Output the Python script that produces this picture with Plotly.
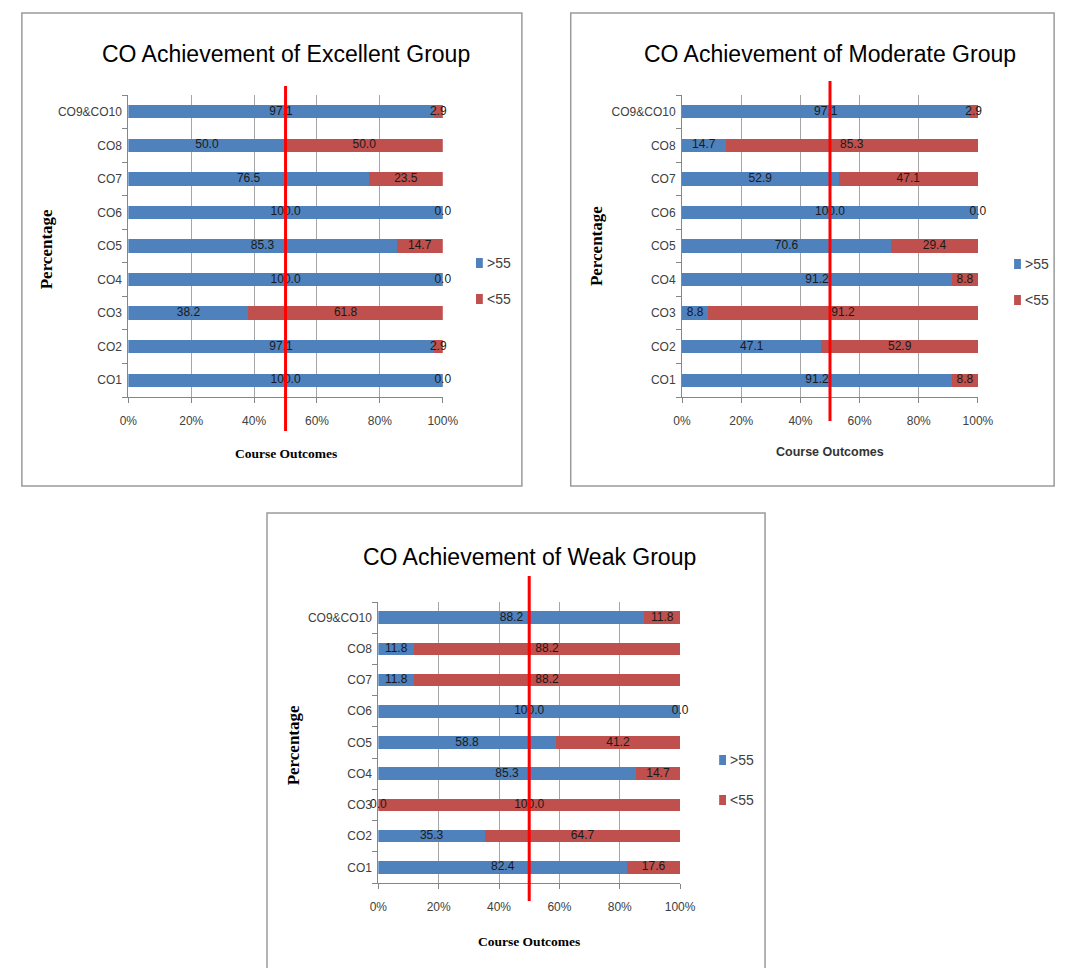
import plotly.graph_objects as go

W, H = 1067, 968

categories = ["CO1", "CO2", "CO3", "CO4", "CO5", "CO6", "CO7", "CO8", "CO9&CO10"]

excellent_above = [100.0, 97.1, 38.2, 100.0, 85.3, 100.0, 76.5, 50.0, 97.1]
excellent_below = [0.0, 2.9, 61.8, 0.0, 14.7, 0.0, 23.5, 50.0, 2.9]

moderate_above = [91.2, 47.1, 8.8, 91.2, 70.6, 100.0, 52.9, 14.7, 97.1]
moderate_below = [8.8, 52.9, 91.2, 8.8, 29.4, 0.0, 47.1, 85.3, 2.9]

weak_above = [82.4, 35.3, 0.0, 85.3, 58.8, 100.0, 11.8, 11.8, 88.2]
weak_below = [17.6, 64.7, 100.0, 14.7, 41.2, 0.0, 88.2, 88.2, 11.8]

titles = ["CO Achievement of Excellent Group",
          "CO Achievement of Moderate Group",
          "CO Achievement of Weak Group"]
series_names = [">55", "<55"]
x_tickvals = [0, 20, 40, 60, 80, 100]
x_ticktext = ["0%", "20%", "40%", "60%", "80%", "100%"]
threshold = 50

BLUE = "#4F81BD"
RED = "#C0504D"
SANS = "Liberation Sans, Arial, sans-serif"
SERIF = "Liberation Serif, Times New Roman, serif"


def px(x):
    return x / W


def py(y):
    return 1 - y / H


# panel geometry in pixels
panels = [
    dict(data=(excellent_above, excellent_below), box=(5, 5, 517, 478),
         xd=(114, 436), yd=(87, 389), title_y=46, line_y=(78, 423),
         leg_x=470, leg_y=(255, 291), ylab=(30, 241), xlab_y=445,
         xlab_serif=True),
    dict(data=(moderate_above, moderate_below), box=(567, 5, 1062, 478),
         xd=(681, 984), yd=(87, 389), title_y=46, line_y=(73, 413),
         leg_x=1021, leg_y=(256, 292), ylab=(593, 238), xlab_y=444,
         xlab_serif=False),
    dict(data=(weak_above, weak_below), box=(256, 505, 766, 975),
         xd=(370, 679), yd=(594, 875), title_y=549, line_y=(568, 893),
         leg_x=719, leg_y=(752, 792), ylab=(283, 737), xlab_y=933,
         xlab_serif=True),
]

fig = go.Figure()
layout = dict(width=W, height=H, margin=dict(l=0, r=0, t=0, b=0),
              paper_bgcolor="white", plot_bgcolor="white",
              barmode="stack", bargap=0.6, showlegend=False,
              shapes=[], annotations=[])

for i, p in enumerate(panels):
    sfx = "" if i == 0 else str(i + 1)
    xa, ya = "x" + sfx, "y" + sfx
    above, below = p["data"]
    colors = (BLUE, RED)
    for name, vals, col in zip(series_names, (above, below), colors):
        fig.add_trace(go.Bar(
            x=vals, y=categories, orientation="h", name=name,
            marker=dict(color=col, line=dict(width=0)),
            xaxis=xa, yaxis=ya, hoverinfo="skip"))
    # data labels at segment centres
    lx = [a / 2 for a in above] + [a + b / 2 for a, b in zip(above, below)]
    ly = categories + categories
    lt = [f"{v:.1f}" for v in above] + [f"{v:.1f}" for v in below]
    fig.add_trace(go.Scatter(
        x=lx, y=ly, mode="text", text=lt, textposition="middle center",
        textfont=dict(family=SANS, size=12, color="#1a1a1a"),
        cliponaxis=False, xaxis=xa, yaxis=ya, showlegend=False,
        hoverinfo="skip"))

    axis_common = dict(showline=True, linecolor="#868686", linewidth=1,
                       ticks="outside", tickcolor="#868686", ticklen=5,
                       tickfont=dict(family=SANS, size=12, color="#404040"))
    layout["xaxis" + sfx] = dict(
        domain=[px(p["xd"][0]), px(p["xd"][1])], anchor=ya, range=[0, 100],
        tickvals=x_tickvals, ticktext=x_ticktext, showgrid=True,
        gridcolor="#a6a6a6", gridwidth=1, zeroline=False, fixedrange=True,
        ticklabelstandoff=8, **axis_common)
    layout["yaxis" + sfx] = dict(
        domain=[py(p["yd"][1]), py(p["yd"][0])], anchor=xa,
        type="category", tickson="boundaries", showgrid=False,
        ticklabelstandoff=3, **axis_common)

    # legend (manual, per panel)
    for name, col, ly_ in zip(series_names, colors, p["leg_y"]):
        layout["shapes"].append(dict(
            type="rect", xref="paper", yref="paper",
            x0=px(p["leg_x"]), x1=px(p["leg_x"] + 7),
            y0=py(ly_ + 5), y1=py(ly_ - 5),
            fillcolor=col, line=dict(width=0)))
        layout["annotations"].append(dict(
            text=name, xref="paper", yref="paper", x=px(p["leg_x"] + 9),
            y=py(ly_), xanchor="left", yanchor="middle", showarrow=False,
            font=dict(family=SANS, size=14, color="#404040")))

    x0, y0, x1, y1 = p["box"]
    layout["shapes"].append(dict(
        type="rect", xref="paper", yref="paper", x0=px(x0), x1=px(x1),
        y0=py(y1), y1=py(y0), line=dict(color="#9a9a9a", width=1.5),
        layer="below"))
    layout["shapes"].append(dict(
        type="line", xref=xa, yref="paper", x0=threshold, x1=threshold,
        y0=py(p["line_y"][1]), y1=py(p["line_y"][0]),
        line=dict(color="#FF0000", width=3), layer="above"))

    cx = (p["xd"][0] + p["xd"][1]) / 2
    layout["annotations"].append(dict(
        text=titles[i], xref="paper", yref="paper", x=px(cx),
        y=py(p["title_y"]), xanchor="center", yanchor="middle",
        showarrow=False,
        font=dict(family=SANS, size=23, color="#000000")))
    layout["annotations"].append(dict(
        text="<b>Percentage</b>", xref="paper", yref="paper",
        x=px(p["ylab"][0]), y=py(p["ylab"][1]), textangle=-90,
        xanchor="center", yanchor="middle", showarrow=False,
        font=dict(family=SERIF, size=17, color="#000000")))
    if p["xlab_serif"]:
        xf = dict(family=SERIF, size=13.5, color="#000000")
    else:
        xf = dict(family=SANS, size=12.5, color="#333333")
    layout["annotations"].append(dict(
        text="<b>Course Outcomes</b>", xref="paper", yref="paper",
        x=px(cx), y=py(p["xlab_y"]), xanchor="center", yanchor="middle",
        showarrow=False, font=xf))

fig.update_layout(**layout)
fig.write_html("out.html")
